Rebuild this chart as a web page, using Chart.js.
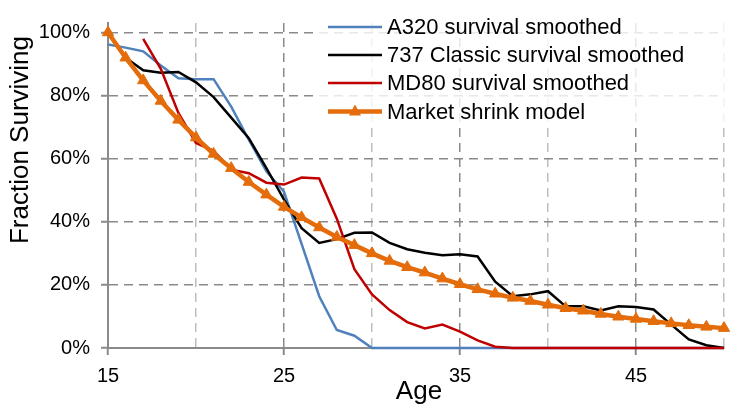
<!DOCTYPE html>
<html>
<head>
<meta charset="utf-8">
<script src="https://cdn.jsdelivr.net/npm/chart.js@4/dist/chart.umd.min.js"></script>
<style>
  html, body { margin: 0; padding: 0; background: #fff; }
  #wrap { width: 733px; height: 406px; position: relative; }
</style>
</head>
<body>
<div id="wrap"><canvas id="chart"></canvas></div>
<script>
// ages on the x axis (years)
const ages = [15, 16, 17, 18, 19, 20, 21, 22, 23, 24, 25, 26, 27, 28, 29, 30, 31, 32,
              33, 34, 35, 36, 37, 38, 39, 40, 41, 42, 43, 44, 45, 46, 47, 48, 49, 50];

// fraction surviving, in percent
const a320 = [96.2, 95.2, 94.0, 89.5, 85.5, 85.2, 85.2, 76.5, 66.0, 56.0, 49.5, 33.0, 16.4, 5.7, 3.9, 0,
              0, 0, 0, 0, 0, 0, 0, 0, 0, 0, 0, 0, 0, 0, 0, 0, 0, 0, 0, 0];
const classic737 = [null, 92.0, 88.0, 87.2, 87.5, 84.2, 79.5, 73.0, 66.5, 57.0, 47.0, 38.0, 33.3, 34.5,
                    36.5, 36.6, 33.3, 31.3, 30.2, 29.4, 29.7, 29.0, 21.0, 16.4, 17.0, 18.0, 13.2, 13.2,
                    11.9, 13.2, 13.0, 12.2, 7.4, 2.7, 0.9, 0];
const md80 = [null, null, 98.0, 88.5, 74.5, 65.0, 62.5, 56.5, 55.4, 52.4, 51.8, 54.0, 53.7, 41.0, 25.0,
              17.0, 12.0, 8.2, 6.2, 7.4, 5.2, 2.4, 0.4, 0, 0, 0, 0, 0, 0, 0, 0, 0, 0, 0, 0, 0];
const marketModel = [100, 92.0, 84.8, 78.3, 72.3, 66.7, 61.5, 57.0, 52.6, 48.6, 44.7, 41.4, 38.2, 35.2,
                     32.6, 30.0, 27.6, 25.6, 23.9, 22.0, 20.2, 18.6, 17.2, 15.9, 14.9, 13.7, 12.6, 11.8,
                     10.8, 9.9, 9.2, 8.5, 7.8, 7.2, 6.7, 6.3];

const xLabelTicks = [15, 25, 35, 45];
const yTicks = [0, 20, 40, 60, 80, 100];

const FONT = "'Liberation Sans', Arial, sans-serif";
const GRID_DARK = '#8a8a8a';
const GRID_LIGHT = '#bdbdbd';

const series = [
    { label: 'A320 survival smoothed', values: a320, color: '#4F81BD', width: 2.5, marker: false },
    { label: '737 Classic survival smoothed', values: classic737, color: '#000000', width: 2.5, marker: false },
    { label: 'MD80 survival smoothed', values: md80, color: '#C00000', width: 2.5, marker: false },
    { label: 'Market shrink model', values: marketModel, color: '#E46C0A', width: 4.5, marker: true }
];

const toPoints = vals => ages.map((a, i) => ({ x: a, y: vals[i] }));

const drawOrder = [3, 2, 1, 0]; // market model on top

const datasets = series.map((s, i) => ({
    label: s.label,
    data: toPoints(s.values),
    borderColor: s.color,
    backgroundColor: s.color,
    borderWidth: s.width,
    pointStyle: 'triangle',
    pointRadius: s.marker ? 6.5 : 0,
    pointBorderWidth: 1,
    pointHoverRadius: s.marker ? 6.5 : 0,
    tension: 0,
    clip: false,
    order: drawOrder[i]
}));

// legend box floating inside the plot, plus both axis titles
const overlay = {
    id: 'overlay',
    beforeDatasetsDraw(chart) {
        const ctx = chart.ctx;
        ctx.save();
        ctx.fillStyle = 'rgba(255,255,255,0.8)';
        ctx.fillRect(316, 10, 411, 118);

        const rowY = [27, 55, 83, 111.5];
        ctx.font = '22px ' + FONT;
        ctx.textBaseline = 'middle';
        ctx.textAlign = 'left';
        series.forEach((s, i) => {
            const y = rowY[i];
            ctx.strokeStyle = s.color;
            ctx.lineWidth = s.width;
            ctx.beginPath();
            ctx.moveTo(328, y);
            ctx.lineTo(382, y);
            ctx.stroke();
            if (s.marker) {
                ctx.fillStyle = s.color;
                ctx.beginPath();
                ctx.moveTo(355, y - 7);
                ctx.lineTo(361, y + 4);
                ctx.lineTo(349, y + 4);
                ctx.closePath();
                ctx.fill();
            }
            ctx.fillStyle = '#000';
            ctx.fillText(s.label, 387, y + 1);
        });
        ctx.restore();
    },
    afterDraw(chart) {
        const ctx = chart.ctx;
        ctx.save();
        ctx.fillStyle = '#000';
        ctx.font = '26px ' + FONT;
        ctx.textAlign = 'center';
        ctx.textBaseline = 'alphabetic';
        ctx.fillText('Age', 419, 399);
        ctx.translate(28, 140);
        ctx.rotate(-Math.PI / 2);
        ctx.fillText('Fraction Surviving', 0, 0);
        ctx.restore();
    }
};

new Chart(document.getElementById('chart'), {
    type: 'line',
    data: { datasets },
    options: {
        responsive: true,
        maintainAspectRatio: false,
        animation: false,
        layout: { padding: { top: 5, right: 3, left: 0, bottom: 0 } },
        plugins: {
            legend: { display: false },
            tooltip: { enabled: false }
        },
        scales: {
            x: {
                type: 'linear',
                min: 15,
                max: 50,
                afterBuildTicks: axis => {
                    axis.ticks = ages.filter(a => a % 5 === 0).map(v => ({ value: v }));
                },
                afterFit: axis => { axis.height = 58; },
                ticks: {
                    color: '#000',
                    font: { family: FONT, size: 20 },
                    padding: 9,
                    maxRotation: 0,
                    autoSkip: false,
                    callback: v => xLabelTicks.includes(v) ? String(v) : ''
                },
                grid: {
                    color: ctx => (ctx.tick && ctx.tick.value % 10 === 5) ? GRID_DARK : GRID_LIGHT,
                    lineWidth: 1.5,
                    tickLength: 7,
                    tickColor: ctx => (ctx.tick && xLabelTicks.includes(ctx.tick.value)) ? GRID_DARK : 'rgba(0,0,0,0)',
                    tickWidth: 2
                },
                border: { color: GRID_DARK, width: 2, dash: [9, 6] }
            },
            y: {
                min: 0,
                max: 103,
                afterBuildTicks: axis => {
                    axis.ticks = yTicks.map(v => ({ value: v }));
                },
                afterFit: axis => { axis.width = 108; },
                ticks: {
                    color: '#000',
                    font: { family: FONT, size: 20 },
                    padding: 11,
                    callback: v => v + '%'
                },
                grid: {
                    color: ctx => (ctx.tick && ctx.tick.value === 0) ? 'rgba(0,0,0,0)' : GRID_DARK,
                    lineWidth: 1.5,
                    tickLength: 7,
                    tickColor: GRID_DARK,
                    tickWidth: 2
                },
                border: { color: GRID_DARK, width: 2, dash: [9, 6] }
            }
        }
    },
    plugins: [overlay]
});
</script>
</body>
</html>
